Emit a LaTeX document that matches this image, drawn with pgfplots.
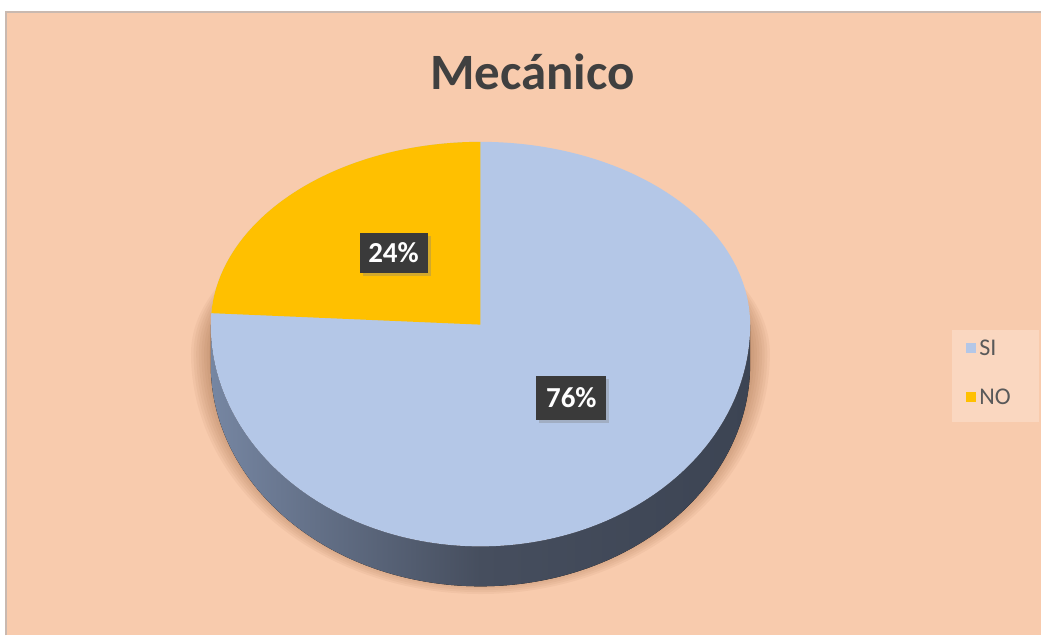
\documentclass[border=0pt]{standalone}
\usepackage{pgfplots}
\pgfplotsset{compat=1.18}
\usepackage{pgfplotstable}
\usepackage{fontspec}
\setmainfont{Carlito}
\usetikzlibrary{shadows}

\definecolor{bgpeach}{HTML}{F8CBAD}
\definecolor{siblue}{HTML}{B4C7E7}
\definecolor{noyellow}{HTML}{FFC000}
\definecolor{sidel}{HTML}{7686A2}
\definecolor{sidem}{HTML}{464E5E}
\definecolor{sider}{HTML}{3C4453}
\definecolor{shadowc}{HTML}{9A6440}
\definecolor{titlec}{HTML}{404040}
\definecolor{legbg}{HTML}{FAD7C0}
\definecolor{legtext}{HTML}{595959}
\definecolor{labelbg}{HTML}{3A3A3A}
\definecolor{framec}{HTML}{C9B9B0}

\pgfplotstableread{
label value
SI 76
NO 24
}\piedata

% egg-shaped (perspective) ellipse: cx, cy, rx, ry top, ry bottom
\newcommand{\eggpath}[5]{plot[domain=0:180,samples=90,smooth] ({(#1)+(#3)*cos(\x)},{(#2)+(#4)*sin(\x)}) -- plot[domain=180:360,samples=90,smooth] ({(#1)+(#3)*cos(\x)},{(#2)+(#5)*sin(\x)}) -- cycle}

\begin{document}
\begin{tikzpicture}
\pgfplotstablegetelem{0}{value}\of\piedata \global\let\vSI\pgfplotsretval
\pgfplotstablegetelem{1}{value}\of\piedata \global\let\vNO\pgfplotsretval
\pgfmathsetmacro{\angNO}{90+3.6*\vNO}
\global\let\angNO\angNO
\begin{axis}[scale only axis, width=521pt, height=318pt,
  xmin=0, xmax=1042, ymin=0, ymax=636, hide axis, clip=false]
% full canvas
\fill[white] (axis cs:0,0) rectangle (axis cs:1042,636);
% background and frame
\fill[bgpeach] (axis cs:6,0) rectangle (axis cs:1042,624);
\draw[framec, line width=1.2pt] (axis cs:6,0) -- (axis cs:6,624) -- (axis cs:1042,624);
% title
\node[font=\bfseries\fontsize{25.5}{30}\selectfont, text=titlec] at (axis cs:533,564) {Mecánico};
% soft shadow under the pie
\begin{scope}
\clip (axis cs:6,33) rectangle (axis cs:1042,624);
\pgfplotsinvokeforeach{0,...,13}{
  \fill[shadowc, opacity=0.07] \eggpath{481}{282}{256+2.6*#1}{160}{216+1.9*#1};
}
\end{scope}
% side of the pie
\fill[left color=sidel, right color=sider, middle color=sidem]
  plot[domain=180:360,samples=120,smooth] ({481+270*cos(\x)},{311+222*sin(\x)})
  -- plot[domain=360:180,samples=120,smooth] ({481+270*cos(\x)},{271+222*sin(\x)}) -- cycle;
% top face: SI
\fill[siblue] \eggpath{481}{311}{270}{183}{222};
% NO slice
\fill[noyellow] (axis cs:481,311) -- plot[domain=90:\angNO,samples=60,smooth] ({481+270*cos(\x)},{311+183*sin(\x)}) -- cycle;
% data labels
\node[fill=labelbg, text=white, font=\bfseries\fontsize{14.5}{17}\selectfont,
  minimum width=34pt, minimum height=20pt, inner sep=2pt,
  drop shadow={shadow xshift=1.5pt, shadow yshift=-1.5pt, opacity=0.35}]
  at (axis cs:394,383) {\vNO\%};
\node[fill=labelbg, text=white, font=\bfseries\fontsize{14.5}{17}\selectfont,
  minimum width=35pt, minimum height=22pt, inner sep=2pt,
  drop shadow={shadow xshift=1.5pt, shadow yshift=-1.5pt, opacity=0.35}]
  at (axis cs:572,238) {\vSI\%};
% legend
\fill[legbg] (axis cs:953,214) rectangle (axis cs:1040,306);
\fill[siblue] (axis cs:967,283) rectangle (axis cs:977,293);
\node[anchor=west, text=legtext, font=\fontsize{12}{14}\selectfont, inner sep=0pt] at (axis cs:980,288) {SI};
\fill[noyellow] (axis cs:967,234) rectangle (axis cs:977,244);
\node[anchor=west, text=legtext, font=\fontsize{12}{14}\selectfont, inner sep=0pt] at (axis cs:980,239) {NO};
\end{axis}
\end{tikzpicture}
\end{document}
